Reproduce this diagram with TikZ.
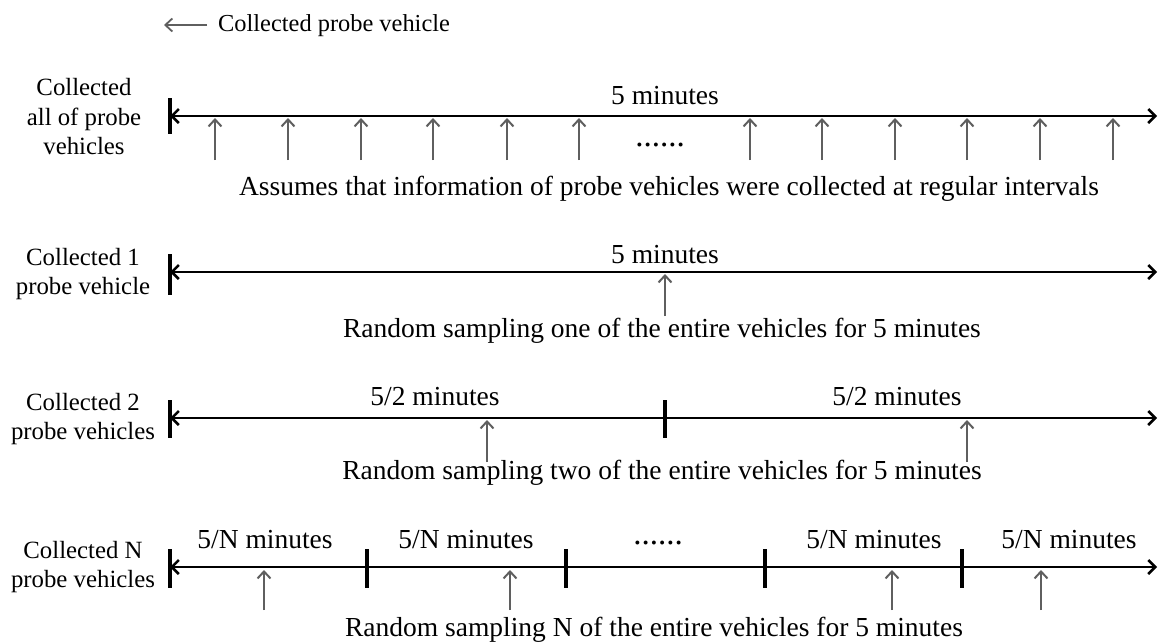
\documentclass[tikz,border=0pt]{standalone}
\usepackage{fontspec}
\setmainfont{Liberation Serif}
\usetikzlibrary{arrows.meta}
\definecolor{arrgray}{RGB}{95,95,95}
\tikzset{
  axis/.style={line width=2.5pt,{Straight Barb[length=7pt,width=14pt]}-{Straight Barb[length=7pt,width=14pt]}},
  tickmark/.style={line width=3.2pt},
  probe/.style={line width=2pt,arrgray,-{Straight Barb[length=7pt,width=13pt]}},
  lbl/.style={font=\fontsize{27.5}{32}\selectfont,inner sep=0pt,align=center},
  dots/.style={font=\fontsize{33}{36}\selectfont,inner sep=0pt},
  legendtext/.style={font=\fontsize{24.4}{29}\selectfont,inner sep=0pt},
  side/.style={font=\fontsize{24.8}{29.5}\selectfont,inner sep=0pt,align=center},
}
\begin{document}
\begin{tikzpicture}[x=1pt,y=-1pt]
\useasboundingbox (0,0) rectangle (1158,643);
% legend
\coordinate (lgA) at (207,25);
\coordinate (lgB) at (164,25);
\draw[probe,line width=1.8pt] (lgA) -- (lgB);
\node[legendtext,anchor=west] (lgT) at (218,26) {Collected probe vehicle};

% ---------- row 1
\node[side] (s1) at (84,117) {Collected\\all of probe\\vehicles};
\coordinate (r1s) at (170,116);
\coordinate (r1e) at (1157,116);
\draw[axis] (r1s) -- (r1e);
\draw[tickmark] (170,98) -- (170,134);
\node[lbl] (m1) at (665,96) {5 minutes};
\foreach \x in {215,288,361,433,507,579,750,822,895,967,1040,1113}{
  \coordinate (b\x) at (\x,160);
  \coordinate (t\x) at (\x,118);
  \draw[probe] (b\x) -- (t\x);
}
\node[dots] (d1) at (660,145) {......};
\node[lbl] (a1) at (669,189) {Assumes that information of probe vehicles were collected at regular intervals};

% ---------- row 2
\node[side] (s2) at (83,274) {Collected 1\\probe vehicle};
\coordinate (r2s) at (170,272);
\coordinate (r2e) at (1157,272);
\draw[axis] (r2s) -- (r2e);
\draw[tickmark] (170,254) -- (170,295);
\node[lbl] (m2) at (665,255) {5 minutes};
\coordinate (p2b) at (665,316);
\coordinate (p2t) at (665,274);
\draw[probe] (p2b) -- (p2t);
\node[lbl] (a2) at (662,331) {Random sampling one of the entire vehicles for 5 minutes};

% ---------- row 3
\node[side] (s3) at (83,419) {Collected 2\\probe vehicles};
\coordinate (r3s) at (170,418);
\coordinate (r3e) at (1157,418);
\draw[axis] (r3s) -- (r3e);
\draw[tickmark] (170,400) -- (170,438);
\draw[tickmark] (665,400) -- (665,438);
\node[lbl] (m3a) at (435,397) {5/2 minutes};
\node[lbl] (m3b) at (897,397) {5/2 minutes};
\coordinate (p3ab) at (487,462);
\coordinate (p3at) at (487,420);
\coordinate (p3bb) at (967,462);
\coordinate (p3bt) at (967,420);
\draw[probe] (p3ab) -- (p3at);
\draw[probe] (p3bb) -- (p3bt);
\node[lbl] (a3) at (662,473) {Random sampling two of the entire vehicles for 5 minutes};

% ---------- row 4
\node[side] (s4) at (83,567) {Collected N\\probe vehicles};
\coordinate (r4s) at (170,567);
\coordinate (r4e) at (1157,567);
\draw[axis] (r4s) -- (r4e);
\foreach \x in {170,367,566,765,962}{
  \draw[tickmark] (\x,549) -- (\x,588);
}
\node[lbl] (m4a) at (265,540) {5/N minutes};
\node[lbl] (m4b) at (466,540) {5/N minutes};
\node[lbl] (m4c) at (874,540) {5/N minutes};
\node[lbl] (m4d) at (1069,540) {5/N minutes};
\node[dots] (d4) at (658,543) {......};
\foreach \x in {264,510,892,1041}{
  \coordinate (q\x) at (\x,610);
  \coordinate (u\x) at (\x,570);
  \draw[probe] (q\x) -- (u\x);
}
\node[lbl] (a4) at (654,630) {Random sampling N of the entire vehicles for 5 minutes};
\end{tikzpicture}
\end{document}
